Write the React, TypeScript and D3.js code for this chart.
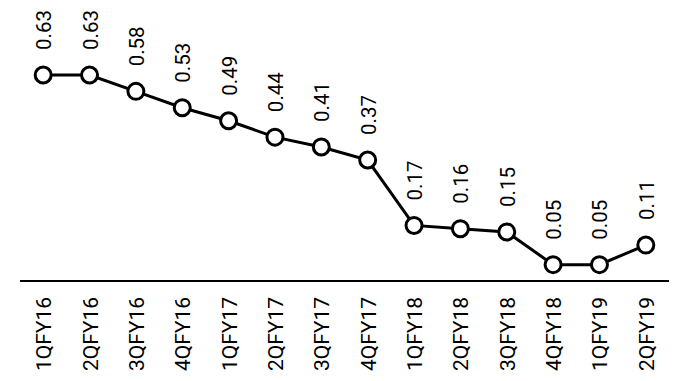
import React from "react";
import * as d3 from "d3";

const categories = ["1QFY16","2QFY16","3QFY16","4QFY16","1QFY17","2QFY17","3QFY17","4QFY17","1QFY18","2QFY18","3QFY18","4QFY18","1QFY19","2QFY19"];
const values = [0.63,0.63,0.58,0.53,0.49,0.44,0.41,0.37,0.17,0.16,0.15,0.05,0.05,0.11];

const W = 682, H = 381;

export default function App() {
  const x = d3.scaleBand<string>().domain(categories).range([20, 669]);
  const y = d3.scaleLinear().domain([0, 0.63]).range([281, 75]);
  const cx = (c: string) => (x(c) ?? 0) + x.bandwidth() / 2;
  const line = d3.line<number>().x((_, i) => cx(categories[i])).y(d => y(d));
  return (
    <svg width={W} height={H} style={{ position: "absolute", left: 0, top: 0 }}>
      <rect width={W} height={H} fill="#fff" />
      <line x1={20} x2={669} y1={y(0)} y2={y(0)} stroke="#000" strokeWidth={2} />
      <path d={line(values) ?? ""} fill="none" stroke="#000" strokeWidth={3} />
      {values.map((v, i) => (
        <circle key={i} cx={cx(categories[i])} cy={y(v)} r={8} fill="#fff" stroke="#000" strokeWidth={3} />
      ))}
      {values.map((v, i) => (
        <text key={"v" + i} transform={`translate(${cx(categories[i]) + 1},${y(v) - 25}) rotate(-90)`}
          textAnchor="start" dominantBaseline="central" fontFamily="Roboto" fontSize={20.5} fill="#000">
          {v.toFixed(2)}
        </text>
      ))}
      {categories.map((c, i) => (
        <text key={"c" + i} transform={`translate(${cx(c) + 1},${297}) rotate(-90)`}
          textAnchor="end" dominantBaseline="central" fontFamily="Roboto" fontSize={21} fill="#000">
          {c}
        </text>
      ))}
    </svg>
  );
}
